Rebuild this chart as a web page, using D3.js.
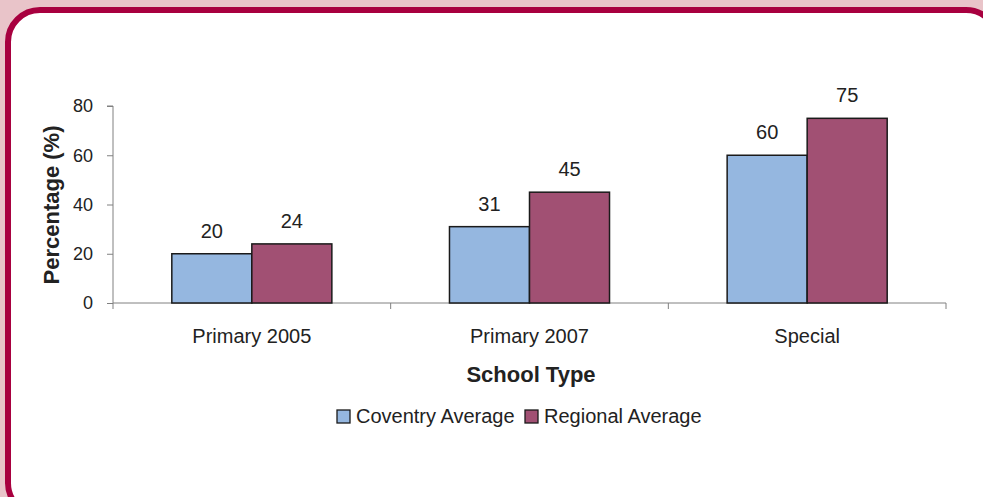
<!DOCTYPE html>
<html><head><meta charset="utf-8">
<script src="https://cdn.jsdelivr.net/npm/d3@7/dist/d3.min.js"></script>
<style>body{margin:0;background:#e9c4c9;}svg{display:block;}</style>
</head><body>
<svg id="c" width="983" height="497"></svg>
<script>
const categories = ["Primary 2005", "Primary 2007", "Special"];
const seriesNames = ["Coventry Average", "Regional Average"];
const coventry = [20, 31, 60];
const regional = [24, 45, 75];
const yTicks = [0, 20, 40, 60, 80];
const colors = ["#95b7e0", "#a15073"];

const svg = d3.select("#c");
svg.append("rect").attr("x",0).attr("y",0).attr("width",983).attr("height",497).attr("fill","#e9c4c9");
svg.append("rect").attr("x",8).attr("y",10).attr("width",990).attr("height",505)
  .attr("rx",32).attr("fill","#fff").attr("stroke","#a8003f").attr("stroke-width",6);

const x0 = 113, x1 = 946, yTop = 106, yBot = 303;
const x = d3.scaleBand().domain(categories).range([x0, x1]).paddingInner(0).paddingOuter(0);
const y = d3.scaleLinear().domain([0, 80]).range([yBot, yTop]);
const xs = d3.scaleBand().domain(seriesNames).range([0, x.bandwidth()]).paddingInner(0).paddingOuter(0.735);

const font = "'Liberation Sans', Arial, sans-serif";

// y axis
const ya = svg.append("g").attr("transform", `translate(${x0},0)`)
  .call(d3.axisLeft(y).tickValues(yTicks).tickSize(6).tickPadding(14));
ya.select(".domain").attr("stroke","#808080").attr("d", `M-6,${yTop}H0V${yBot}`);
ya.selectAll(".tick line").attr("stroke","#808080");
ya.selectAll(".tick text").attr("font-family",font).attr("font-size",18).attr("fill","#222");

// x axis
const xa = svg.append("g").attr("transform", `translate(0,${yBot})`);
xa.append("line").attr("x1",x0).attr("x2",x1).attr("y1",0).attr("y2",0).attr("stroke","#808080");
const bounds = categories.map(c => x(c)).concat([x1]);
xa.selectAll("line.t").data(bounds).enter().append("line").attr("class","t")
  .attr("x1",d=>d).attr("x2",d=>d).attr("y1",0).attr("y2",6).attr("stroke","#808080");
xa.selectAll("text").data(categories).enter().append("text")
  .attr("x", d => x(d) + x.bandwidth()/2).attr("y", 40).attr("text-anchor","middle")
  .attr("font-family",font).attr("font-size",20).attr("fill","#222").text(d=>d);

// bars
const data = categories.map((c,i)=>({c, vals:[coventry[i], regional[i]]}));
const g = svg.append("g");
data.forEach(d => {
  d.vals.forEach((v,j) => {
    const bx = x(d.c) + xs(seriesNames[j]);
    g.append("rect").attr("x", bx).attr("y", y(v)).attr("width", xs.bandwidth())
      .attr("height", yBot - y(v)).attr("fill", colors[j]).attr("stroke","#1a1a1a").attr("stroke-width",1.5);
    g.append("text").attr("x", bx + xs.bandwidth()/2).attr("y", y(v) - 16)
      .attr("text-anchor","middle").attr("font-family",font).attr("font-size",20).attr("fill","#222").text(v);
  });
});

// titles
svg.append("text").attr("transform", `translate(59,205) rotate(-90)`)
  .attr("text-anchor","middle").attr("font-family",font).attr("font-size",22).attr("font-weight","bold")
  .attr("fill","#222").text("Percentage (%)");
svg.append("text").attr("x", 531).attr("y", 382).attr("text-anchor","middle")
  .attr("font-family",font).attr("font-size",22).attr("font-weight","bold").attr("fill","#222").text("School Type");

// legend
const legX = [337, 525];
seriesNames.forEach((s,j) => {
  svg.append("rect").attr("x", legX[j]).attr("y", 410).attr("width", 13).attr("height", 13)
    .attr("fill", colors[j]).attr("stroke","#1a1a1a").attr("stroke-width",1.3);
  svg.append("text").attr("x", legX[j] + 19).attr("y", 423).attr("font-family",font).attr("font-size",20)
    .attr("fill","#222").text(s);
});
</script>
</body></html>
